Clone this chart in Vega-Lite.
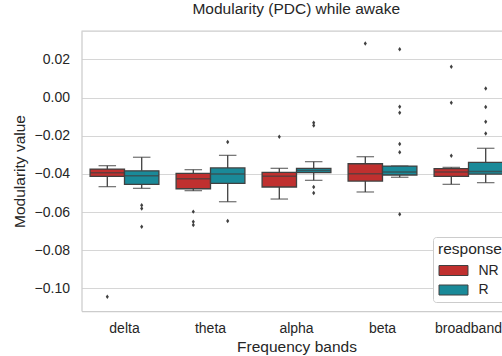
{
  "$schema": "https://vega.github.io/schema/vega-lite/v6.json",
  "autosize": {"type": "none"},
  "padding": {"left": 81.5, "top": 31, "right": 0, "bottom": 45},
  "width": 420.5,
  "height": 280,
  "title": {"text": "Modularity (PDC) while awake", "fontSize": 15.5, "fontWeight": "normal", "font": "Liberation Sans", "color": "#262626", "offset": 13, "anchor": "middle", "dx": 4.5},
  "datasets": {
    "boxes": [
      {"band": "delta", "response": "NR", "lo": -0.0467, "q1": -0.0413, "med": -0.0394, "q3": -0.0375, "hi": -0.0357},
      {"band": "delta", "response": "R", "lo": -0.0476, "q1": -0.0455, "med": -0.0410, "q3": -0.0384, "hi": -0.0313},
      {"band": "theta", "response": "NR", "lo": -0.0488, "q1": -0.0478, "med": -0.0425, "q3": -0.0397, "hi": -0.0378},
      {"band": "theta", "response": "R", "lo": -0.0546, "q1": -0.0450, "med": -0.0401, "q3": -0.0369, "hi": -0.0303},
      {"band": "alpha", "response": "NR", "lo": -0.0532, "q1": -0.0469, "med": -0.0413, "q3": -0.0392, "hi": -0.0371},
      {"band": "alpha", "response": "R", "lo": -0.0434, "q1": -0.0394, "med": -0.0382, "q3": -0.0371, "hi": -0.0336},
      {"band": "beta", "response": "NR", "lo": -0.0495, "q1": -0.0438, "med": -0.0399, "q3": -0.0347, "hi": -0.0310},
      {"band": "beta", "response": "R", "lo": -0.0418, "q1": -0.0406, "med": -0.0390, "q3": -0.0359, "hi": -0.0359},
      {"band": "broadband", "response": "NR", "lo": -0.0455, "q1": -0.0413, "med": -0.0390, "q3": -0.0373, "hi": -0.0366},
      {"band": "broadband", "response": "R", "lo": -0.0446, "q1": -0.0401, "med": -0.0387, "q3": -0.0340, "hi": -0.0266}
    ],
    "fliers": [
      {"band": "delta", "response": "NR", "value": -0.1044},
      {"band": "delta", "response": "R", "value": -0.0565},
      {"band": "delta", "response": "R", "value": -0.0582},
      {"band": "delta", "response": "R", "value": -0.0677},
      {"band": "theta", "response": "NR", "value": -0.0598},
      {"band": "theta", "response": "NR", "value": -0.0651},
      {"band": "theta", "response": "NR", "value": -0.0668},
      {"band": "theta", "response": "R", "value": -0.0233},
      {"band": "theta", "response": "R", "value": -0.0647},
      {"band": "alpha", "response": "NR", "value": -0.0205},
      {"band": "alpha", "response": "R", "value": -0.0132},
      {"band": "alpha", "response": "R", "value": -0.0146},
      {"band": "alpha", "response": "R", "value": -0.0469},
      {"band": "alpha", "response": "R", "value": -0.0500},
      {"band": "beta", "response": "NR", "value": 0.0284},
      {"band": "beta", "response": "R", "value": 0.0253},
      {"band": "beta", "response": "R", "value": -0.0048},
      {"band": "beta", "response": "R", "value": -0.0080},
      {"band": "beta", "response": "R", "value": -0.0244},
      {"band": "beta", "response": "R", "value": -0.0287},
      {"band": "beta", "response": "R", "value": -0.0612},
      {"band": "broadband", "response": "NR", "value": 0.0161},
      {"band": "broadband", "response": "NR", "value": -0.0027},
      {"band": "broadband", "response": "NR", "value": -0.0305},
      {"band": "broadband", "response": "R", "value": 0.0048},
      {"band": "broadband", "response": "R", "value": -0.0050},
      {"band": "broadband", "response": "R", "value": -0.0127},
      {"band": "broadband", "response": "R", "value": -0.0188}
    ],
    "frame": [{"top": 0.0349}]
  },
  "layer": [
    {
      "encoding": {
        "x": {
          "field": "band", "type": "nominal",
          "sort": ["delta", "theta", "alpha", "beta", "broadband"],
          "scale": {"paddingInner": 0, "paddingOuter": 0, "range": [0, 430]},
          "title": "Frequency bands",
          "axis": {"labelAngle": 0, "labelPadding": 10, "titlePadding": 4, "grid": false, "domain": true, "domainColor": "#cccccc", "domainWidth": 1.25}
        },
        "xOffset": {
          "field": "response", "type": "nominal",
          "sort": ["NR", "R"],
          "scale": {"paddingInner": 0, "paddingOuter": 0.25}
        }
      },
      "layer": [
        {
          "data": {"name": "boxes"},
          "mark": {"type": "rule", "color": "#404040", "strokeWidth": 1.3},
          "encoding": {
            "y": {"field": "lo", "type": "quantitative",
              "scale": {"domain": [-0.1119, 0.0349], "nice": false, "zero": false},
              "title": "Modularity value",
              "axis": {"values": [-0.1, -0.08, -0.06, -0.04, -0.02, 0, 0.02], "format": ".2f", "labelPadding": 12, "titlePadding": 7, "domain": true, "domainColor": "#cccccc", "domainWidth": 1.25}},
            "y2": {"field": "q1"}
          }
        },
        {
          "data": {"name": "boxes"},
          "mark": {"type": "rule", "color": "#404040", "strokeWidth": 1.3},
          "encoding": {
            "y": {"field": "q3", "type": "quantitative"},
            "y2": {"field": "hi"}
          }
        },
        {
          "data": {"name": "boxes"},
          "mark": {"type": "tick", "color": "#404040", "size": 17.5, "thickness": 1.3},
          "encoding": {"y": {"field": "lo", "type": "quantitative"}}
        },
        {
          "data": {"name": "boxes"},
          "mark": {"type": "tick", "color": "#404040", "size": 17.5, "thickness": 1.3},
          "encoding": {"y": {"field": "hi", "type": "quantitative"}}
        },
        {
          "data": {"name": "boxes"},
          "mark": {"type": "bar", "stroke": "#404040", "strokeWidth": 1.3, "opacity": 1},
          "encoding": {
            "y": {"field": "q1", "type": "quantitative"},
            "y2": {"field": "q3"},
            "fill": {
              "field": "response", "type": "nominal",
              "scale": {"domain": ["NR", "R"], "range": ["#c0302f", "#1a8a99"]},
              "legend": {
                "orient": "none", "legendX": 351.5, "legendY": 206,
                "title": "response",
                "symbolType": "M-2,-0.69H2V0.69H-2Z", "symbolSize": 210,
                "symbolStrokeColor": "#404040", "symbolStrokeWidth": 1,
                "symbolOffset": 7.5, "labelOffset": 17, "rowPadding": 4.5,
                "padding": 5, "titlePadding": 5,
                "strokeColor": "#cccccc", "fillColor": "white", "cornerRadius": 3
              }
            }
          }
        },
        {
          "data": {"name": "boxes"},
          "mark": {"type": "tick", "color": "#404040", "size": 34.4, "thickness": 1.5},
          "encoding": {"y": {"field": "med", "type": "quantitative"}}
        },
        {
          "data": {"name": "fliers"},
          "mark": {"type": "point", "shape": "M0,-1L0.7,0L0,1L-0.7,0Z", "size": 20, "filled": true, "color": "#404040", "opacity": 1},
          "encoding": {"y": {"field": "value", "type": "quantitative"}}
        }
      ]
    },
    {
      "data": {"name": "frame"},
      "mark": {"type": "rule", "color": "#cccccc", "strokeWidth": 1.25},
      "encoding": {"y": {"field": "top", "type": "quantitative"}}
    }
  ],
  "config": {
    "font": "Liberation Sans",
    "view": {"stroke": null},
    "axis": {
      "ticks": false, "tickSize": 0, "domain": false,
      "labelFontSize": 14, "labelColor": "#262626", "labelFont": "Liberation Sans",
      "titleFontSize": 15.5, "titleColor": "#262626", "titleFontWeight": "normal", "titleFont": "Liberation Sans",
      "gridColor": "#d6d6d6", "gridWidth": 1
    },
    "legend": {
      "titleFontSize": 15.5, "titleFontWeight": "normal", "titleColor": "#262626",
      "labelFontSize": 14, "labelColor": "#262626"
    }
  }
}
